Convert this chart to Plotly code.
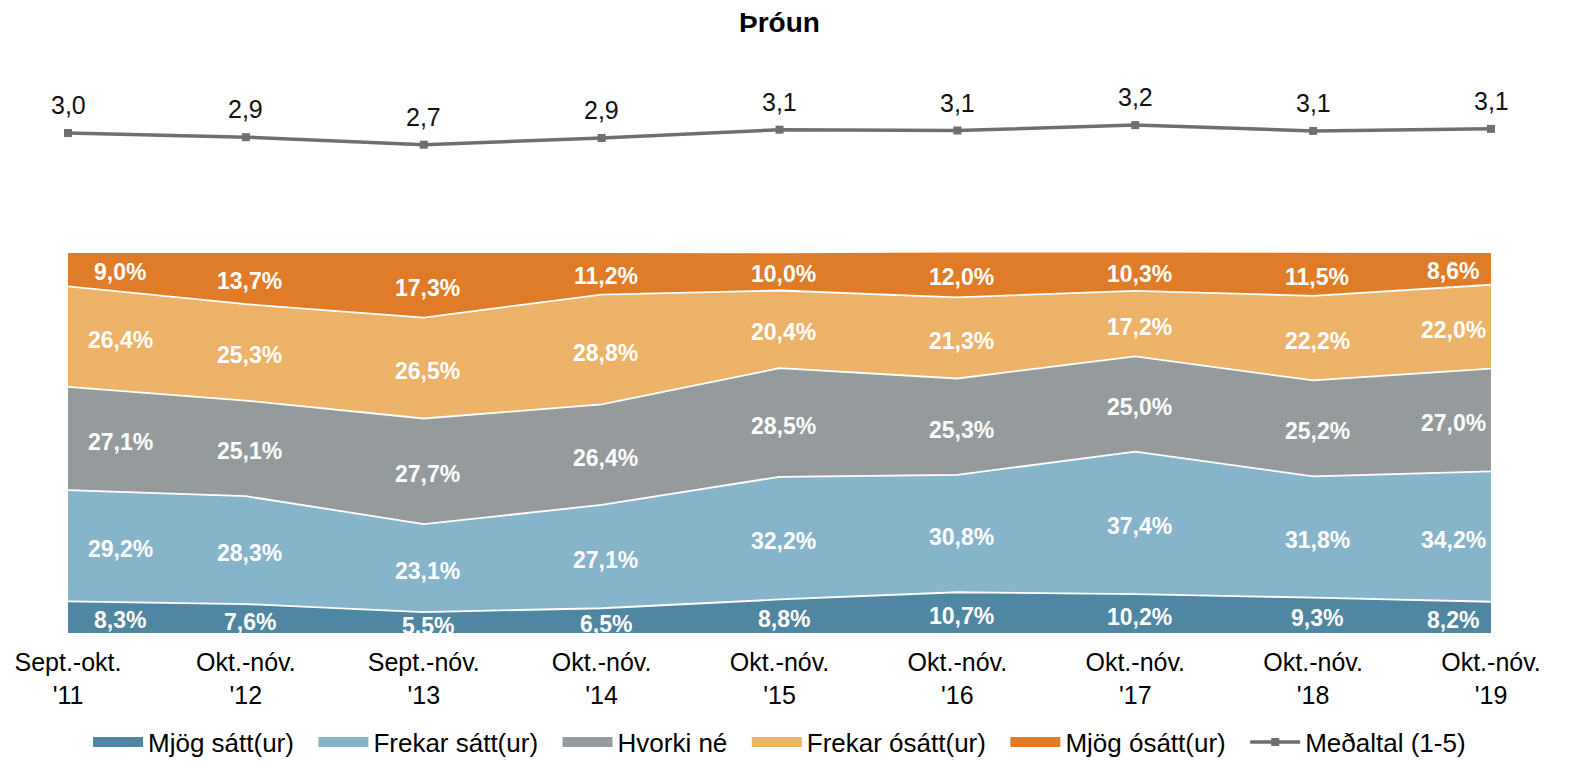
import plotly.graph_objects as go

categories = ["Sept.-okt.<br>'11", "Okt.-nóv.<br>'12", "Sept.-nóv.<br>'13", "Okt.-nóv.<br>'14",
              "Okt.-nóv.<br>'15", "Okt.-nóv.<br>'16", "Okt.-nóv.<br>'17", "Okt.-nóv.<br>'18",
              "Okt.-nóv.<br>'19"]

mjog_satt = [8.3, 7.6, 5.5, 6.5, 8.8, 10.7, 10.2, 9.3, 8.2]
frekar_satt = [29.2, 28.3, 23.1, 27.1, 32.2, 30.8, 37.4, 31.8, 34.2]
hvorki = [27.1, 25.1, 27.7, 26.4, 28.5, 25.3, 25.0, 25.2, 27.0]
frekar_osatt = [26.4, 25.3, 26.5, 28.8, 20.4, 21.3, 17.2, 22.2, 22.0]
mjog_osatt = [9.0, 13.7, 17.3, 11.2, 10.0, 12.0, 10.3, 11.5, 8.6]
medaltal = [3.01, 2.91, 2.73, 2.89, 3.09, 3.07, 3.20, 3.06, 3.11]

series = [
    ("Mjög sátt(ur)", mjog_satt, "#4F86A1"),
    ("Frekar sátt(ur)", frekar_satt, "#86B4CB"),
    ("Hvorki né", hvorki, "#959B9C"),
    ("Frekar ósátt(ur)", frekar_osatt, "#ECB267"),
    ("Mjög ósátt(ur)", mjog_osatt, "#E07C28"),
]

FONT = "Liberation Sans, Arial, sans-serif"
NB = "\u00a0\u00a0"
x = list(range(len(categories)))

# page has an 8px body margin: figure is sized to fit the 1575x762 window
W, H = 1567, 754

fig = go.Figure()
for name, vals, color in series:
    fig.add_trace(go.Scatter(
        x=x, y=vals, name=name, mode="lines", stackgroup="one",
        line=dict(color="white", width=1.8), fillcolor=color,
        hoverinfo="skip", showlegend=False,
    ))

for name, vals, color in series:
    fig.add_trace(go.Scatter(
        x=[None], y=[None], name=name + NB, mode="lines",
        line=dict(color=color, width=13), showlegend=True,
    ))

fig.add_trace(go.Scatter(
    x=x, y=medaltal, name="Meðaltal (1-5)", mode="lines+markers",
    yaxis="y2", line=dict(color="#6F6F6F", width=3.5),
    marker=dict(symbol="square", size=8, color="#6F6F6F"),
    cliponaxis=False,
))

annotations = []
for i, m in enumerate(medaltal):
    annotations.append(dict(
        x=i, y=m, xref="x", yref="y2", text=f"{m:.1f}".replace(".", ","),
        showarrow=False, yshift=28,
        font=dict(size=25, color="#111111", family=FONT),
    ))

n = len(categories)
cum = [0.0] * n
for name, vals, color in series:
    for i, v in enumerate(vals):
        mid = cum[i] + v / 2
        shift = 52 if i == 0 else (-38 if i == n - 1 else 4)
        annotations.append(dict(
            x=i, y=mid, xref="x", yref="y", text=f"{v:.1f}%".replace(".", ","),
            showarrow=False, xshift=shift, yshift=-3,
            font=dict(size=23, color="white", family=FONT, weight="bold"),
        ))
        cum[i] += v

fig.update_layout(
    width=W, height=H,
    paper_bgcolor="white", plot_bgcolor="white",
    separators=",.",
    margin=dict(l=60, r=84, t=52, b=129, autoexpand=False),
    title=dict(text="<b>Þróun</b>", x=0.5, xref="paper", y=1 - 14 / H, yref="container",
               xanchor="center", yanchor="middle",
               font=dict(size=28, color="black", family=FONT)),
    xaxis=dict(range=[0, 8], tickmode="array", tickvals=x, ticktext=categories,
               showgrid=False, zeroline=False, showline=False, automargin=False,
               tickfont=dict(size=25, color="black", family=FONT),
               ticks="", ticklabelstandoff=12),
    yaxis=dict(range=[0, 100], domain=[0, 381 / 573], showgrid=False, zeroline=False,
               showticklabels=False, showline=False, automargin=False),
    yaxis2=dict(range=[0.64, 4.76], domain=[0.7, 1], anchor="x", showgrid=False,
                zeroline=False, showticklabels=False, showline=False, automargin=False),
    legend=dict(orientation="h", x=0.5, xanchor="center", y=1 - 734 / H, yref="container",
                yanchor="middle",
                font=dict(size=26, color="black", family=FONT), itemwidth=50,
                traceorder="normal"),
    showlegend=True,
    annotations=annotations,
)

fig.write_html("out.html")
